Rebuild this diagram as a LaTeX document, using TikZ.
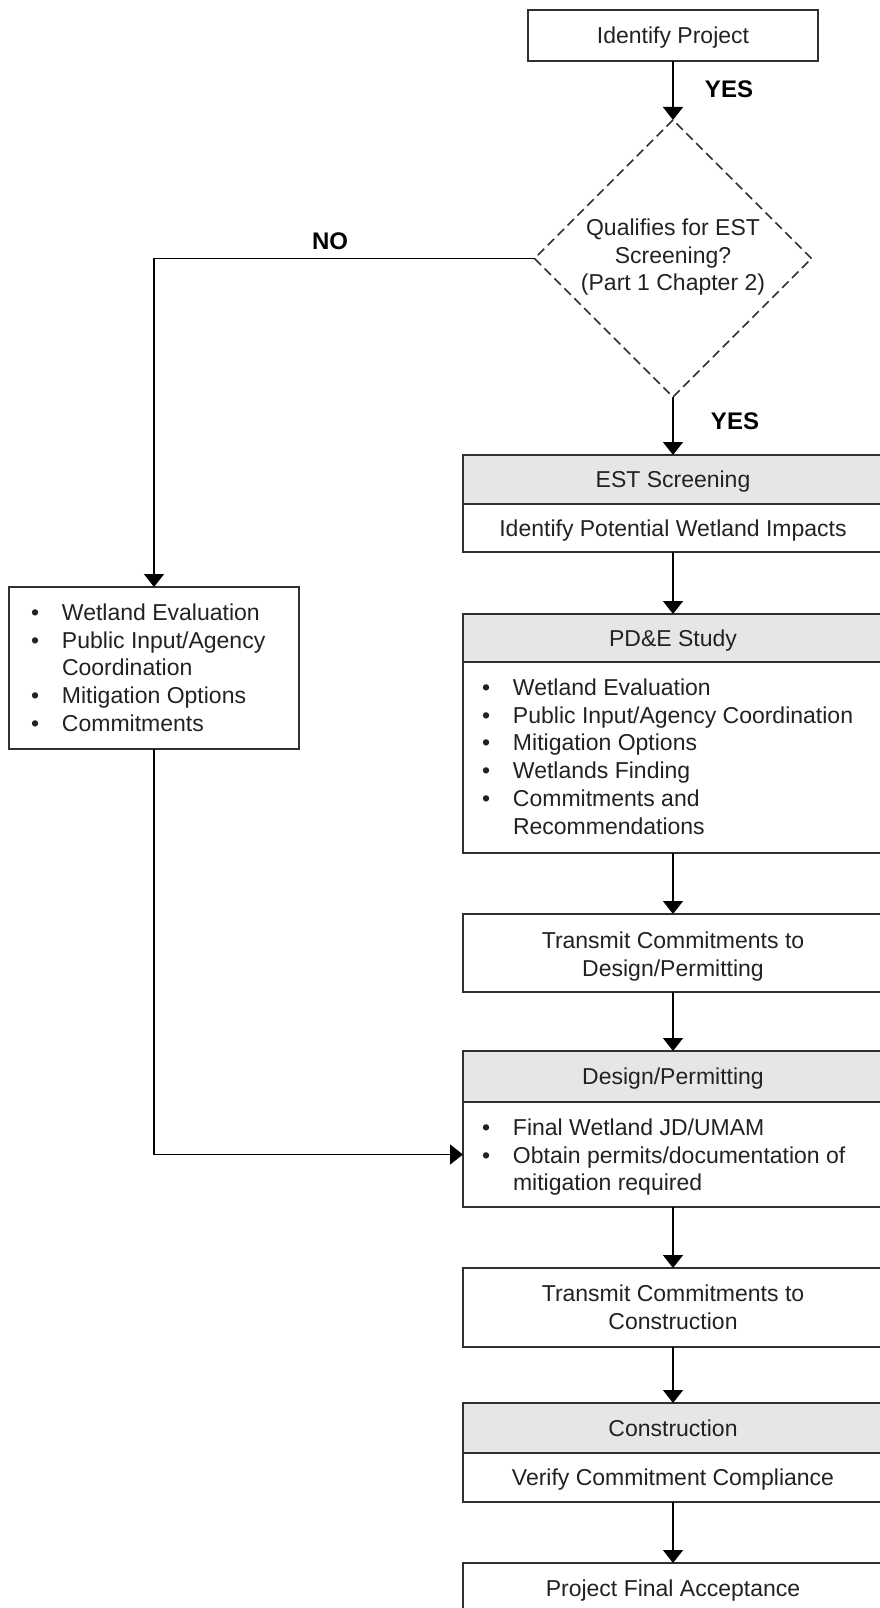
\documentclass[tikz,border=0pt]{standalone}
\usepackage{fontspec}
\setmainfont{Liberation Sans}
\usetikzlibrary{shapes.geometric,arrows.meta}
\definecolor{hdrgray}{HTML}{E7E6E6}
\definecolor{txtc}{HTML}{222222}
\definecolor{linec}{HTML}{303030}
\newcommand{\bulmark}{\makebox[31pt][l]{•}}
\newcommand{\bulgap}{\hspace*{31pt}}
\begin{document}
\begin{tikzpicture}[x=1pt,y=-1pt,
  every node/.style={inner sep=0pt, outer sep=0pt, text=txtc},
  basefont/.style={font=\fontsize{23}{27.75}\selectfont},
  box/.style={draw=linec, line width=1.4pt, fill=white, minimum width=420pt},
  hdr/.style={box, fill=hdrgray},
  one/.style={basefont, text height=16.5pt, text depth=0pt},
  lbl/.style={font=\bfseries\fontsize{24}{28}\selectfont, text=black, text height=17.2pt, text depth=0pt},
  arr/.style={draw=black, line width=1.4pt, -{Triangle[width=20pt,length=13pt]}}
]
\useasboundingbox (0,0) rectangle (880,1608);

% top box and decision
\node[box, one, minimum width=290pt, minimum height=51pt] (ident) at (673,35.5) {Identify Project};
\node[diamond, draw=linec, line width=1.7pt, dash pattern=on 9pt off 5pt,
      minimum width=277pt, minimum height=277pt, aspect=1] (dia) at (673,258.5) {};
\node[basefont, anchor=base] (diat) at (673,235.3)
  {\begin{tabular}[t]{@{}c@{}}Qualifies for EST\\Screening?\\(Part 1 Chapter 2)\end{tabular}};

% EST screening
\node[hdr, one, minimum height=49pt] (esth) at (673,479.5) {EST Screening};
\node[box, one, minimum height=48pt] (estb) at (673,528) {Identify Potential Wetland Impacts};

% PD&E
\node[hdr, one, minimum height=48pt] (pdeh) at (673,638) {PD\&E Study};
\node[box, minimum height=191pt] (pdeb) at (673,757.5) {};
\node[basefont, anchor=base west] (pdet) at (482,695.3)
  {\begin{tabular}[t]{@{}l@{}}\bulmark Wetland Evaluation\\
   \bulmark Public Input/Agency Coordination\\
   \bulmark Mitigation Options\\
   \bulmark Wetlands Finding\\
   \bulmark Commitments and\\
   \bulgap Recommendations\end{tabular}};

% transmit 1
\node[box, minimum height=78pt] (tone) at (673,953) {};
\node[basefont, anchor=base] (tonet) at (673,948.3)
  {\begin{tabular}[t]{@{}c@{}}Transmit Commitments to\\Design/Permitting\end{tabular}};

% design / permitting
\node[hdr, one, minimum height=51pt] (desh) at (673,1076.5) {Design/Permitting};
\node[box, minimum height=105pt] (desb) at (673,1154.5) {};
\node[basefont, anchor=base west] (dest) at (482,1135.3)
  {\begin{tabular}[t]{@{}l@{}}\bulmark Final Wetland JD/UMAM\\
   \bulmark Obtain permits/documentation of\\
   \bulgap mitigation required\end{tabular}};

% transmit 2
\node[box, minimum height=79pt] (ttwo) at (673,1307.5) {};
\node[basefont, anchor=base] (ttwot) at (673,1301.3)
  {\begin{tabular}[t]{@{}c@{}}Transmit Commitments to\\Construction\end{tabular}};

% construction
\node[hdr, one, minimum height=50pt] (conh) at (673,1428) {Construction};
\node[box, one, minimum height=49pt] (conb) at (673,1477.5) {Verify Commitment Compliance};

% final
\node[box, one, minimum height=50pt] (fin) at (673,1588) {Project Final Acceptance};

% left box
\node[box, minimum width=290pt, minimum height=162pt] (lbox) at (154,668) {};
\node[basefont, anchor=base west] (lboxt) at (31,620.3)
  {\begin{tabular}[t]{@{}l@{}}\bulmark Wetland Evaluation\\
   \bulmark Public Input/Agency\\
   \bulgap Coordination\\
   \bulmark Mitigation Options\\
   \bulmark Commitments\end{tabular}};

% connectors
\draw[arr] (ident.south) -- (dia.north);
\draw[arr] (dia.south) -- (esth.north);
\draw[arr] (estb.south) -- (pdeh.north);
\draw[arr] (pdeb.south) -- (tone.north);
\draw[arr] (tone.south) -- (desh.north);
\draw[arr] (desb.south) -- (ttwo.north);
\draw[arr] (ttwo.south) -- (conh.north);
\draw[arr] (conb.south) -- (fin.north);
\draw[arr] (dia.west) -| (lbox.north);
\draw[arr] (lbox.south) |- (desb.west);

% labels
\node[lbl] (yesa) at (729,89) {YES};
\node[lbl] (yesb) at (735,421) {YES};
\node[lbl] (nolbl) at (330,241) {NO};
\end{tikzpicture}
\end{document}
